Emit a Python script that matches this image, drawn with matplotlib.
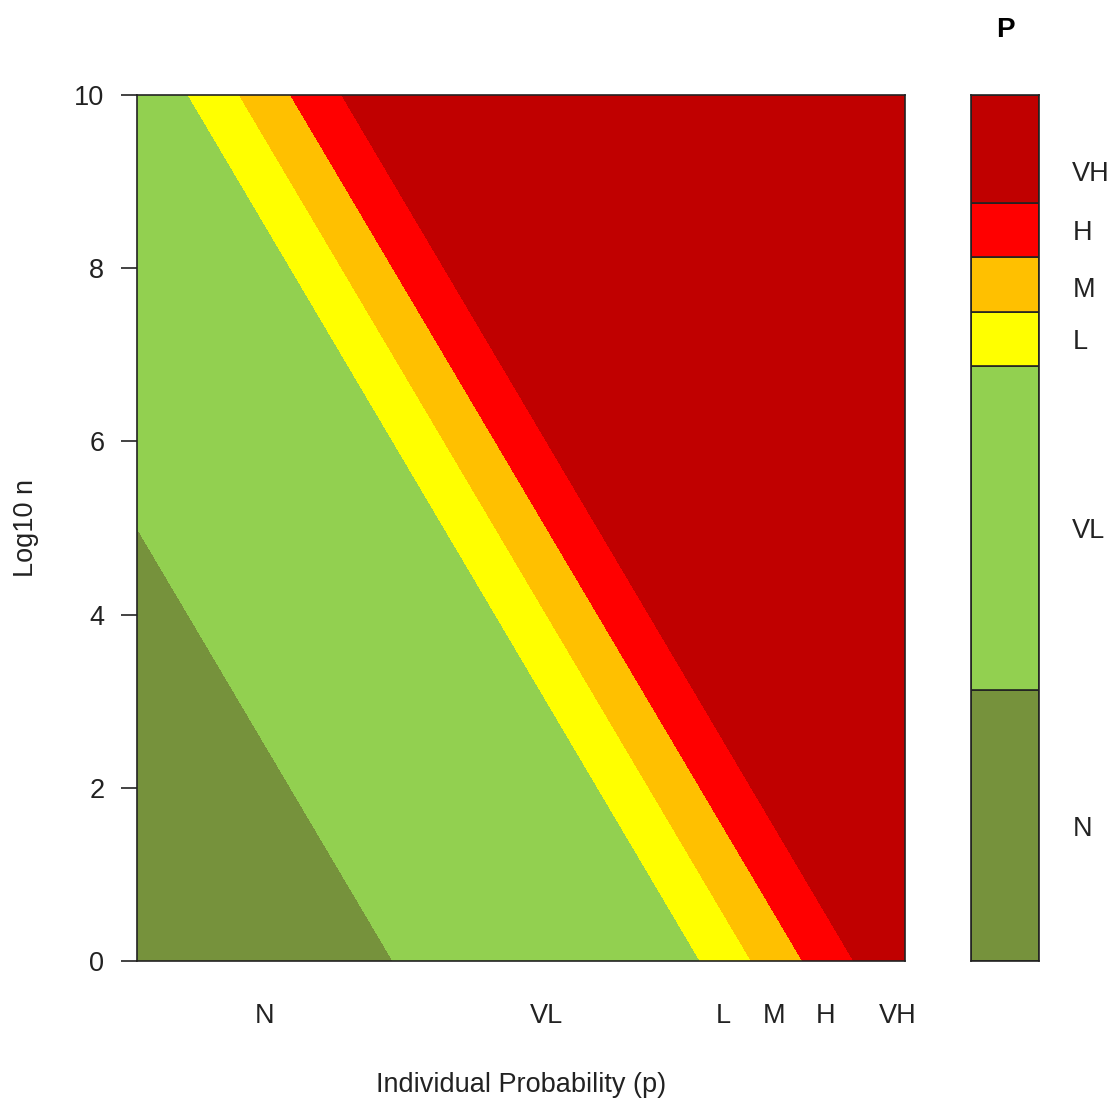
import numpy as np
import matplotlib
matplotlib.use("Agg")
import matplotlib.pyplot as plt

plt.rcParams['font.family'] = ['Liberation Sans', 'DejaVu Sans']

# class boundaries in log10 P, and class colours
levels = [-15, -10, -4, -3, -2, -1, 1]
classes = ["N", "VL", "L", "M", "H", "VH"]
colors = ["#76923C", "#92D050", "#FFFF00", "#FFC000", "#FF0000", "#C00000"]

# where the class names sit on the x axis (log10 p) and on the key
x_label_pos = [-12.5, -7.0, -3.55, -2.55, -1.55, -0.15]
key_label_pos = [-12.5, -7.0, -3.5, -2.55, -1.5, -0.4]

# grid: log10 p across, log10 n up
log_p = np.linspace(-15, 0, 601)
log_n = np.linspace(0, 10, 401)
P, N = np.meshgrid(log_p, log_n)
Z = np.clip(P + N, -15, 0.999)

fs = 19.5

fig = plt.figure(figsize=(11.15, 10.99), dpi=100)

ax = fig.add_axes([137 / 1115, 1 - 961 / 1099, 768 / 1115, 866 / 1099])
ax.contourf(P, N, Z, levels=levels, colors=colors)
ax.set_xlim(-15, 0)
ax.set_ylim(0, 10)
ax.set_yticks([0, 2, 4, 6, 8, 10])
ax.tick_params(axis='y', length=11.5, width=1.2, pad=12, labelsize=fs, colors='#222222')
ax.set_xticks(x_label_pos)
ax.set_xticklabels(classes)
ax.tick_params(axis='x', length=0, pad=30, labelsize=fs, colors='#222222')
for s in ax.spines.values():
    s.set_linewidth(1.2)
    s.set_color('#222222')
ax.set_xlabel("Individual Probability (p)", fontsize=fs, labelpad=31, color='#222222')
ax.set_ylabel("Log10 n", fontsize=fs, labelpad=25, color='#222222')

# key on the right
cax = fig.add_axes([971 / 1115, 1 - 961 / 1099, 68 / 1115, 866 / 1099])
cax.bar(0, np.diff(levels), bottom=levels[:-1], width=1, color=colors,
        edgecolor='#222222', linewidth=1.2)
cax.set_xlim(-0.5, 0.5)
cax.set_ylim(levels[0], levels[-1])
cax.set_xticks([])
cax.yaxis.tick_right()
cax.set_yticks(key_label_pos)
cax.set_yticklabels(classes)
cax.tick_params(axis='y', length=0, pad=24, labelsize=fs, colors='#222222')
for s in cax.spines.values():
    s.set_linewidth(1.2)
    s.set_color('#222222')
cax.set_title("P", fontsize=20, fontweight='bold', pad=42)

fig.savefig("out.png", dpi=100)
